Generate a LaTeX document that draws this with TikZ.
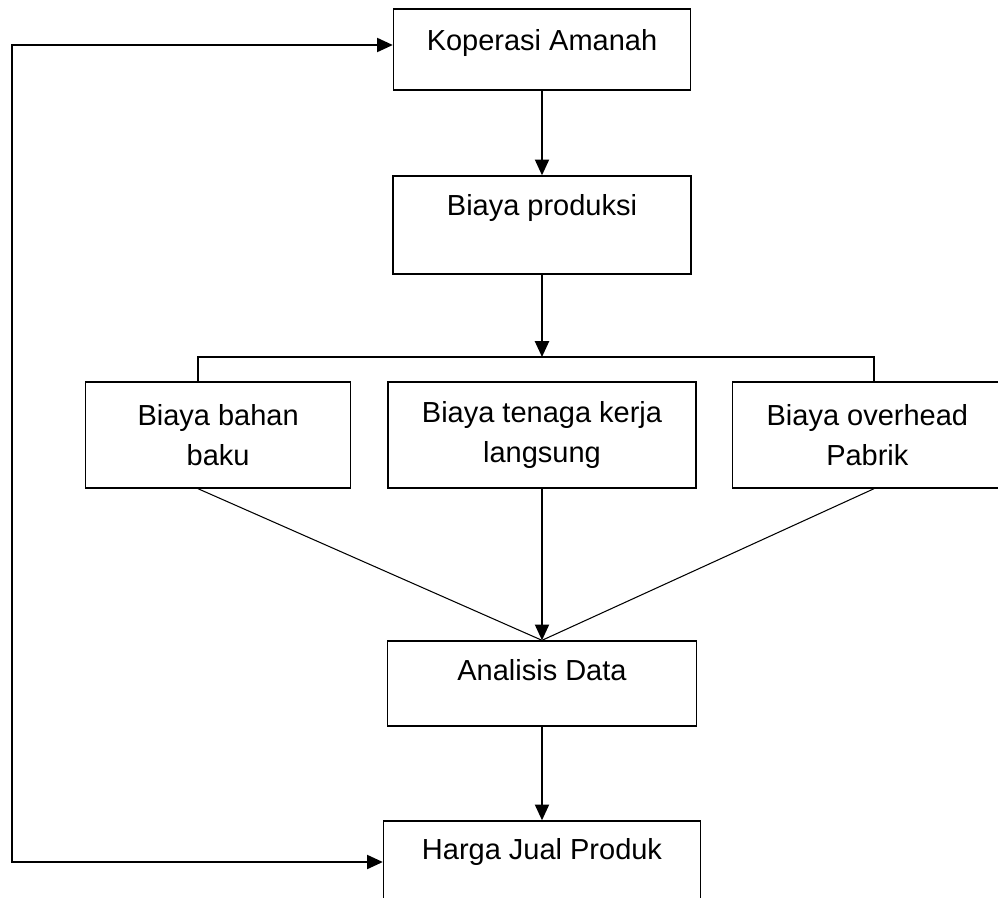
\documentclass[tikz,border=0pt]{standalone}
\usepackage{fontspec}
\setmainfont{Liberation Sans}
\usetikzlibrary{positioning,arrows.meta}

\begin{document}
\begin{tikzpicture}[x=0.02cm, y=-0.02cm, font=\fontsize{16.5}{22.7}\selectfont] %Harga pokok produksi
	\tikzstyle{box} = [rectangle, draw, line width=0.8pt, inner sep=0pt, text centered, align=center]
	\tikzstyle{flow} = [line width=1.1pt, -{Triangle[length=9pt, width=8pt]}]
	\tikzstyle{link} = [line width=1.1pt]
	\tikzstyle{slant} = [line width=0.6pt]
	\useasboundingbox (0,0) rectangle (998,897);
	\node[box, minimum width=5.94cm, minimum height=1.62cm] (K) at (542,49.5) {Koperasi Amanah\\[-0.4cm]\mbox{}};
	\node[box, minimum width=5.96cm, minimum height=1.96cm] (P) at (542,225) {Biaya produksi\\\mbox{}};
	\node[box, minimum width=6.16cm, minimum height=2.12cm] (B2) at (542,435) {Biaya tenaga kerja\\langsung};
	\node[box, minimum width=5.3cm, minimum height=2.12cm, left=0.72cm of B2] (B1) {Biaya bahan\\baku};
	\node[box, minimum width=5.4cm, minimum height=2.12cm, right=0.7cm of B2] (B3) {Biaya overhead\\Pabrik};
	\node[box, minimum width=6.18cm, minimum height=1.7cm] (A) at (542,683.5) {Analisis Data\\[-0.24cm]\mbox{}};
	\node[box, minimum width=6.34cm, minimum height=1.92cm] (H) at (542,869) {Harga Jual Produk\\\mbox{}};
	\coordinate (L) at (198,357);
	\coordinate (M) at (542,357);
	\coordinate (R) at (874,357);
	\coordinate (FT) at (12,45);
	\coordinate (FB) at (12,862);
	\draw[flow] (P) -- (M);
	\draw[link] (L |- B1.north) -- (L) -- (R) -- (R |- B3.north);
	\foreach \a/\b in {K/P, B2/A, A/H}
	{
		\draw[flow] (\a) -- (\b);
	}
	\draw[slant] (L |- B1.south) -- (A.north);
	\draw[slant] (R |- B3.south) -- (A.north);
	\draw[line width=1.1pt, {Triangle[length=9pt, width=8pt]}-{Triangle[length=9pt, width=8pt]}] (FB -| H.west) -- (FB) -- (FT) -- (FT -| K.west);
\end{tikzpicture}
\end{document}
